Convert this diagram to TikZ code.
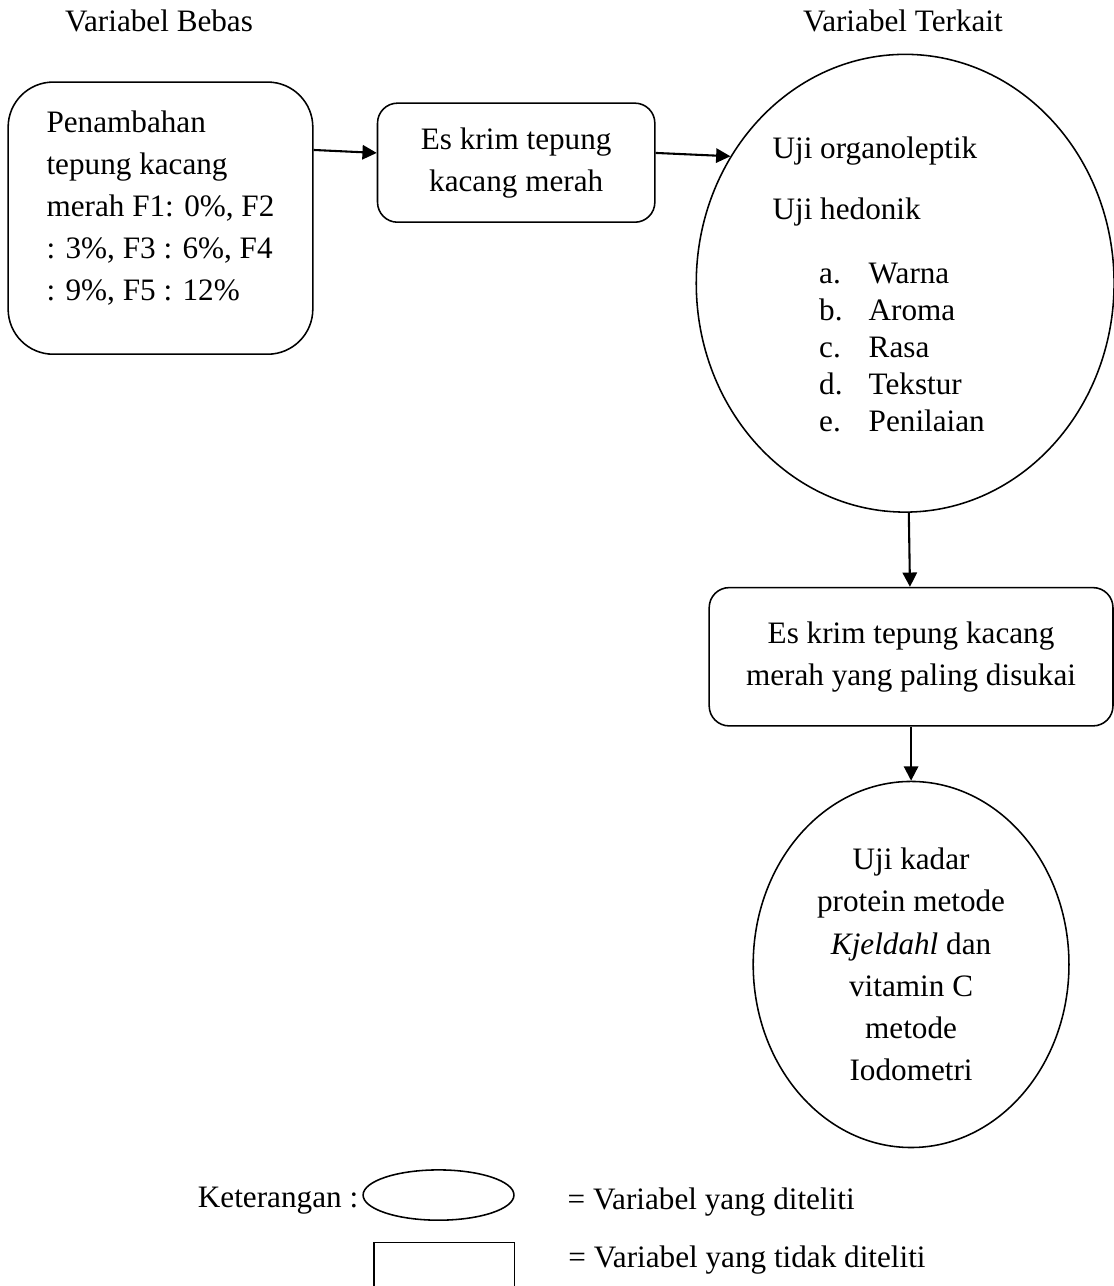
\documentclass[tikz,border=0pt]{standalone}
\usepackage{fontspec}
\setmainfont{Liberation Serif}
\usetikzlibrary{positioning,arrows.meta,shapes}

\begin{document}
\begin{tikzpicture}[
  every node/.style={font=\fontsize{12pt}{16.2pt}\selectfont},
  hdr/.style={anchor=base, inner sep=0pt},
  txt/.style={anchor=base west, inner sep=0pt},
  rbox/.style={rectangle, draw=black, semithick, rounded corners=#1, align=center},
  rbox/.default=0.27cm,
  ovl/.style={ellipse, draw=black, semithick, align=center, inner sep=0pt},
  ea/.style={-{Triangle[length=5.5pt,width=5.5pt]}, thick},
]
\useasboundingbox (0,0) rectangle (15.06,-17.39);

\node[hdr] (hbebas)   at (2.15,-0.43)  {Variabel Bebas};
\node[hdr] (hterkait) at (12.21,-0.43) {Variabel Terkait};

\node[rbox=0.61cm, minimum width=4.12cm, minimum height=3.68cm, align=left,
      text depth=0.34cm] (bebas) at (2.17,-2.95)
  {Penambahan\\tepung kacang\\merah F1: 0\%, F2\\: 3\%, F3 : 6\%, F4\\: 9\%, F5 : 12\%};
\node[rbox, minimum width=3.75cm, minimum height=1.61cm] (eskrim) at (6.98,-2.20)
  {Es krim tepung\\kacang merah};

\node[ovl, minimum width=5.65cm, minimum height=6.19cm] (organo) at (12.24,-3.83) {};
\node[txt] (uorg) at (10.44,-2.14) {Uji organoleptik};
\node[txt] (uhed) at (10.44,-2.97) {Uji hedonik};
\foreach \l/\w [count=\i from 0] in {a/Warna,b/Aroma,c/Rasa,d/Tekstur,e/Penilaian} {
  \node[txt] (l\l) at (11.07,-3.83-0.5*\i) {\l.};
  \node[txt] (w\l) at (11.74,-3.83-0.5*\i) {\w};
}

\node[rbox, minimum width=5.46cm, minimum height=1.87cm, below=1.0cm of organo, xshift=0.08cm] (suka)
  {Es krim tepung kacang\\merah yang paling disukai};
\node[ovl, minimum width=4.27cm, minimum height=4.95cm, below=0.73cm of suka] (protein)
  {Uji kadar\\protein metode\\\textit{Kjeldahl} dan\\vitamin C\\metode\\Iodometri};

\draw[ea] (bebas.24) -- (eskrim.176);
\draw[ea] (eskrim.4) -- (organo.144);
\draw[ea] (organo) -- (suka);
\draw[ea] (suka) -- (protein);

% Legend
\node[anchor=base east, inner sep=0pt] (ket) at (4.85,-16.33) {Keterangan :};
\node[ovl, minimum width=2.04cm, minimum height=0.68cm] (lovl) at (5.93,-16.16) {};
\node[txt] (lovltxt) at (7.67,-16.36) {= Variabel yang diteliti};
\node[draw, semithick, minimum width=1.90cm, minimum height=1.2cm, anchor=north] (lbox) at (6.01,-16.79) {};
\node[txt] (lboxtxt) at (7.68,-17.14) {= Variabel yang tidak diteliti};

\end{tikzpicture}
\end{document}
